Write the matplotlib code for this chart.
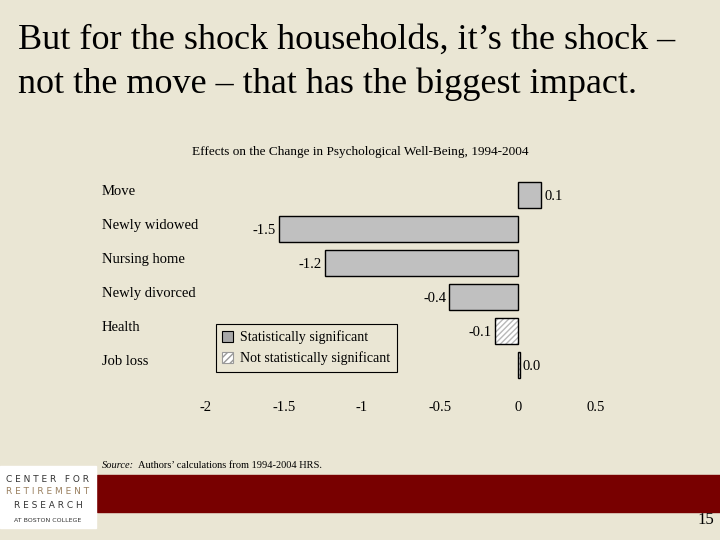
import matplotlib.pyplot as plt
from matplotlib.patches import Rectangle, Patch

# Chart data
categories = ['Move', 'Newly widowed', 'Nursing home', 'Newly divorced', 'Health', 'Job loss']
effects = [0.15, -1.53, -1.24, -0.44, -0.15, 0.01]
value_labels = ['0.1', '-1.5', '-1.2', '-0.4', '-0.1', '0.0']
significant = [True, True, True, True, False, False]
x_ticks = [-2, -1.5, -1, -0.5, 0, 0.5]
x_tick_labels = ['-2', '-1.5', '-1', '-0.5', '0', '0.5']

bg = '#EAE6D4'
serif = 'Liberation Serif'
plt.rcParams['font.family'] = serif

fig = plt.figure(figsize=(7.2, 5.4), dpi=100, facecolor=bg)
ax = fig.add_axes([206 / 720, 1 - 382 / 540, 390 / 720, 204 / 540])
ax.set_facecolor(bg)

# Bars
for i, (v, sig) in enumerate(zip(effects, significant)):
    if sig:
        ax.barh(i, v, height=0.76, color='#C0C0C0', edgecolor='black', linewidth=1)
    else:
        ax.barh(i, v, height=0.76, color='white', edgecolor='#B8B8B8',
                hatch='//////', linewidth=0)
        ax.barh(i, v, height=0.76, fill=False, edgecolor='black', linewidth=1)
    if v >= 0:
        ax.text(v + 0.02, i + 0.05, value_labels[i], ha='left', va='center', fontsize=10.5)
    else:
        ax.text(v - 0.02, i + 0.05, value_labels[i], ha='right', va='center', fontsize=10.5)

# Category labels on the left
for i, cat in enumerate(categories):
    ax.text(-0.267, i - 0.1, cat, transform=ax.get_yaxis_transform(),
            ha='left', va='center', fontsize=10.5)

ax.set_xlim(-2, 0.5)
ax.set_ylim(5.5, -0.5)
ax.set_xticks(x_ticks)
ax.set_xticklabels(x_tick_labels, fontsize=10.5)
ax.tick_params(axis='x', length=0, pad=14)
ax.set_yticks([])
for s in ax.spines.values():
    s.set_visible(False)

# Legend
handles = [Patch(facecolor='#A8A8A8', edgecolor='black', linewidth=0.8, label='Statistically significant'),
           Patch(facecolor='white', edgecolor='#999999', hatch='/////', linewidth=0.8,
                 label='Not statistically significant')]
leg = fig.legend(handles=handles, loc='upper left', bbox_to_anchor=(216 / 720, 1 - 324 / 540),
                 bbox_transform=fig.transFigure, borderaxespad=0, fancybox=False,
                 facecolor=bg, edgecolor='black', framealpha=1, fontsize=10,
                 handlelength=0.8, handleheight=0.8, handletextpad=0.5,
                 labelspacing=0.55, borderpad=0.45)
leg.get_frame().set_linewidth(0.8)

# Titles
fig.text(18 / 720, 1 - 24 / 540,
         'But for the shock households, it\u2019s the shock \u2013\nnot the move \u2013 that has the biggest impact.',
         ha='left', va='top', fontsize=26, linespacing=1.4)
fig.text(360 / 720, 1 - 152 / 540,
         'Effects on the Change in Psychological Well-Being, 1994-2004',
         ha='center', va='center', fontsize=9.5)

# Source note
src = fig.text(102 / 720, 1 - 466 / 540, 'Source:', style='italic', ha='left',
               va='center', fontsize=7.5)
fig.add_artist(plt.Annotation('Authors\u2019 calculations from 1994-2004 HRS.',
                              xy=(1, 0.5), xycoords=src, xytext=(2.5, 0),
                              textcoords='offset points', ha='left', va='center',
                              fontsize=7.5))

# Footer band and logo
fig.add_artist(Rectangle((97 / 720, 1 - 512 / 540), 623 / 720, 37 / 540,
                         transform=fig.transFigure, color='#780000', zorder=0))
fig.add_artist(Rectangle((0, 1 - 528 / 540), 96 / 720, 62 / 540,
                         transform=fig.transFigure, color='white', zorder=0))
logo = [('C E N T E R   F O R', 479, '#333333', 6.5),
        ('R E T I R E M E N T', 492, '#9A8060', 6.5),
        ('R E S E A R C H', 506, '#333333', 6.5),
        ('AT BOSTON COLLEGE', 520, '#333333', 4.5)]
for txt, y, c, fs in logo:
    fig.text(48 / 720, 1 - y / 540, txt, ha='center', va='center', fontsize=fs,
             color=c, family='DejaVu Sans')

fig.text(714 / 720, 1 - 520 / 540, '15', ha='right', va='center', fontsize=12)

fig.savefig('out.png', dpi=100, facecolor=bg)
